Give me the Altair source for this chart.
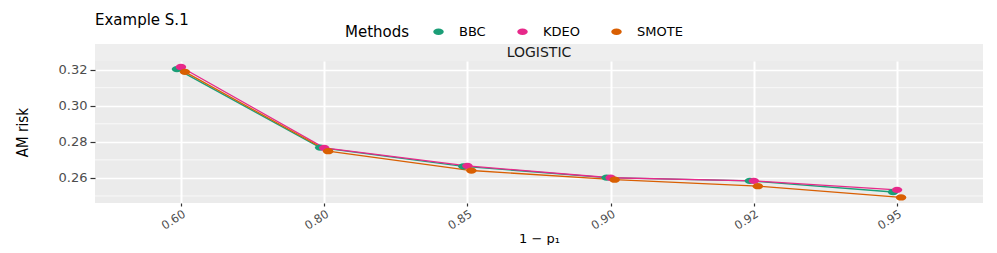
import altair as alt
import pandas as pd

# ---- data ----
x_labels = ["0.60", "0.80", "0.85", "0.90", "0.92", "0.95"]
methods = ["BBC", "KDEO", "SMOTE"]
bbc = [0.3203, 0.2768, 0.2664, 0.2602, 0.2584, 0.2522]
kdeo = [0.3215, 0.2767, 0.2667, 0.2601, 0.2584, 0.2534]
smote = [0.3188, 0.2748, 0.2641, 0.2590, 0.2554, 0.2492]
colors = ["#1B9E77", "#E7298A", "#D95F02"]
y_ticks = [0.26, 0.28, 0.30, 0.32]
y_minor = [0.25, 0.27, 0.29, 0.31]
strip_label = ["LOGISTIC"]

rows = []
for m, vals in zip(methods, [bbc, kdeo, smote]):
    for xl, v in zip(x_labels, vals):
        rows.append({"p": xl, "Methods": m, "risk": v})
df = pd.DataFrame(rows)

W, H = 888, 142
FONT = "DejaVu Sans"
NARROW = "DejaVu Sans Condensed, Liberation Sans Narrow, Liberation Sans"
ELLIPSE = "M-1,0A1,0.6,0,1,1,1,0A1,0.6,0,1,1,-1,0Z"

x_enc = alt.X(
    "p:O",
    sort=x_labels,
    scale=alt.Scale(type="point", padding=0.6, domain=x_labels),
    axis=alt.Axis(
        title="1 − p₁",
        labelAngle=-33, labelAlign="right", labelBaseline="top",
        grid=True, gridColor="white", gridWidth=2,
        domain=False, tickColor="#333333", tickSize=3, tickWidth=1.2,
        labelColor="#4D4D4D", labelFontSize=11.5, labelFont=FONT, labelPadding=2,
        titleFontSize=13, titleFont=FONT, titleFontWeight="normal",
        titleColor="black", titlePadding=1,
    ),
)
y_scale = alt.Scale(domain=[0.2461, 0.3248], nice=False, zero=False)
y_enc = alt.Y(
    "risk:Q",
    scale=y_scale,
    axis=alt.Axis(
        title="AM risk", values=y_ticks, format=".2f",
        grid=True, gridColor="white", gridWidth=1.4,
        domain=False, tickColor="#333333", tickSize=5, tickWidth=1.2,
        labelColor="#4D4D4D", labelFontSize=13, labelFont=FONT, labelPadding=3,
        titleFont=NARROW, titleFontSize=15,
        titleFontWeight="normal", titleColor="black", titlePadding=28,
    ),
)
color_enc = alt.Color(
    "Methods:N",
    scale=alt.Scale(domain=methods, range=colors),
    legend=alt.Legend(
        orient="none", legendX=250, legendY=-36, direction="horizontal",
        titleOrient="left", title="Methods", titleFont=FONT, titleFontSize=15,
        titleFontWeight="normal", titleColor="black", titlePadding=22,
        labelFont=FONT, labelFontSize=13, labelColor="black", labelOffset=14,
        columnPadding=30, symbolType=ELLIPSE, symbolSize=110,
        symbolStrokeWidth=0, symbolOpacity=1,
    ),
)
xoff = alt.XOffset(
    "Methods:N",
    scale=alt.Scale(type="point", domain=methods, range=[-6, 6]),
)

base = alt.Chart(df)

minor = alt.Chart(pd.DataFrame({"v": y_minor})).mark_rule(
    color="white", strokeWidth=0.7
).encode(y=alt.Y("v:Q", scale=y_scale))

lines = base.mark_line(strokeWidth=1.3).encode(
    x=x_enc, y=y_enc, color=color_enc, xOffset=xoff, detail="Methods:N"
)
points = base.mark_point(
    shape=ELLIPSE, filled=True, size=110, opacity=1, strokeWidth=0
).encode(x=x_enc, y=y_enc, color=color_enc, xOffset=xoff)

strip_df = pd.DataFrame({"s": strip_label})
strip_bg = alt.Chart(strip_df).mark_rect(color="#EEEEEE").encode(
    x=alt.value(0), x2=alt.value(W), y=alt.value(-17), y2=alt.value(0)
)
strip_txt = alt.Chart(strip_df).mark_text(
    font=FONT, fontSize=14, color="#1A1A1A", baseline="middle", align="center"
).encode(text="s:N", x=alt.value(W / 2), y=alt.value(-8.5))

chart = alt.layer(minor, lines, points, strip_bg, strip_txt).properties(
    width=W, height=H,
    title=alt.TitleParams(
        "Example S.1", anchor="start", frame="group", font=FONT,
        fontSize=15, fontWeight="normal", color="black", offset=-3,
    ),
    autosize=alt.AutoSizeParams(type="none"),
    padding={"left": 87, "top": 53, "right": 6, "bottom": 42},
).configure_view(fill="#EBEBEB", stroke=None)

chart.save("out.html", embed_options={"renderer": "svg", "actions": False})
